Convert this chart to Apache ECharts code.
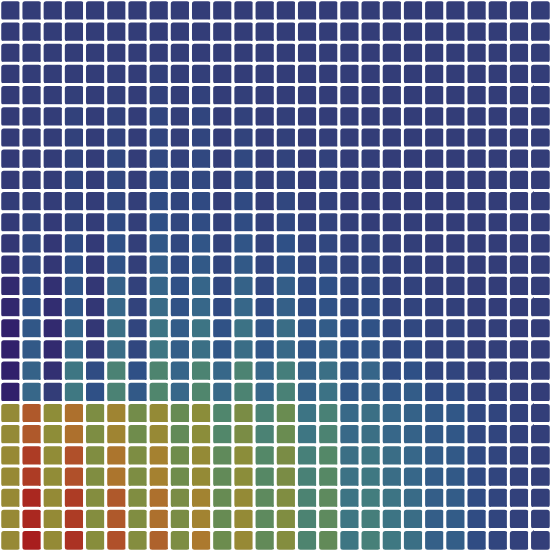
<!DOCTYPE html>
<html>
<head>
<meta charset="utf-8">
<script src="https://cdn.jsdelivr.net/npm/echarts@6/dist/echarts.min.js"></script>
<style>html,body{margin:0;padding:0;background:#fff;}#c{width:551px;height:551px;}</style>
</head>
<body>
<div id="c"></div>
<script>
// Column categories (x) and row categories (y, listed top to bottom)
const xCategories = Array.from({length: 26}, (_, i) => 'C' + i);
const yCategoriesTopDown = Array.from({length: 26}, (_, i) => 'R' + i);

// Cell values, one array per row, from top row to bottom row
const row00 = [0.95,1,1,1,1,1,1,1,1,1,1,1,1,1,1,1,1,1,1,1,1,1,1,1,1,1];
const row01 = [0.95,1,1,1,1,1,1,1,1,1,1,1,1,1,1,1,1,1,1,1,1,1,1,1,1,1];
const row02 = [0.95,1,1,1,1,1,1,1,1,1,1,1,1,1,1,1,1,1,1,1,1,1,1,1,1,1];
const row03 = [0.95,1,1,1,1,1.05,1,1.15,1,1.1,1,1,1,1,1,1,1,1,1,1,1,1,1,1,1,1];
const row04 = [0.95,1,1,1.1,1,1.1,1,1.2,1,1.2,1,1.1,1,1,1,1,1,1,1,1,1,1,1,1,1,1];
const row05 = [0.95,1,1,1.2,1,1.2,1,1.4,1.1,1.4,1,1.2,1,1.1,1,1,1,1,1,1,1,1,1,1,1,1];
const row06 = [0.95,1,1,1.2,1,1.25,1,1.4,1.1,1.4,1,1.3,1,1.15,1,1.05,1,1,1,1,1,1,1,1,1,1];
const row07 = [0.9,1,1,1.3,1,1.5,1,1.6,1.2,1.6,1.05,1.6,1.05,1.3,1,1.2,1,1.05,1,1,1,1,1,1,1,1];
const row08 = [0.9,1,1,1.4,1,1.5,1.05,1.65,1.3,1.6,1.1,1.6,1.1,1.3,1,1.2,1,1.1,1,1,1,1,1,1,1,1];
const row09 = [1,1.1,1,1.2,1,1.5,1.1,1.8,1.4,1.7,1.1,1.7,1.1,1.5,1.1,1.2,1,1,1,1,1,1,1,1,1,1];
const row10 = [0.9,1.3,0.9,1.3,1,1.7,1.1,2,1.5,1.8,1.2,1.8,1.2,1.6,1.2,1.3,1.1,1,1.05,1.05,1,1,1,1,1,1];
const row11 = [0.8,1.5,0.8,1.7,0.9,2,1.1,2.3,1.6,2.2,1.3,2.2,1.3,2,1.3,1.5,1.2,1.3,1.1,1.1,1,1,1,1,1,1];
const row12 = [0.7,1.6,0.8,1.9,0.9,2.1,1.1,2.5,1.7,2.4,1.4,2.4,1.4,2.1,1.4,1.6,1.3,1.4,1.15,1.15,1.05,1.05,1,1,1,1];
const row13 = [0.4,1.9,0.6,2.2,0.8,2.7,1.2,2.9,2,2.9,1.6,2.8,1.6,2.6,1.7,2,1.5,1.6,1.2,1.25,1.1,1.1,1,1,1,1];
const row14 = [0.3,2,0.5,2.3,0.8,3,1.3,3.2,2.1,3,1.7,3,1.7,2.7,1.8,2.1,1.6,1.8,1.3,1.35,1.2,1.15,1.05,1,1,1];
const row15 = [0.1,2.3,0.4,2.9,0.8,3.4,1.4,3.6,2.5,3.6,2.1,3.5,2.2,3.3,2.2,2.5,1.9,2.1,1.5,1.6,1.3,1.3,1.1,1.1,1,1];
const row16 = [0.1,2.4,0.4,3,0.9,3.3,1.5,3.7,2.6,3.4,2.3,3.3,2.3,3.1,2.3,2.6,2,2.2,1.6,1.7,1.3,1.3,1.1,1.1,1,1];
const row17 = [0.1,2.8,0.6,3.7,1.8,4.5,2,4.7,2.9,4.6,3,4.6,3,4.2,2.8,3.4,2.2,2.9,1.8,2,1.4,1.4,1.1,1.1,1,1];
const row18 = [0.1,3,1,3.8,2,4.5,2.4,4.8,3,4.8,3.1,4.6,3,4.4,2.8,3.5,2.3,2.7,2.3,2.5,1.8,1.8,1.3,1.2,1.1,1];
const row19 = [7.2,8.8,7,8.3,6.5,7.6,6.2,7.2,5.8,6.9,4.8,6.4,4.5,5.9,3.6,4.4,3.1,3.4,3,2.8,2.4,2.3,1.6,1.4,1.2,1.1];
const row20 = [7.2,8.8,7,8.3,6.5,7.6,6.1,7.3,5.6,6.9,4.9,6.4,4.5,5.9,3.7,4.6,3.1,3.4,3,2.8,2.4,2.3,1.6,1.4,1.2,1.1];
const row21 = [7.3,9.4,7.1,9,6.6,8.2,6.5,7.8,6.1,7.2,5.5,6.9,5,6.4,4.3,5,3.4,3.7,3.3,3,2.5,2.4,1.7,1.4,1.2,1.1];
const row22 = [7.3,9.4,7.1,9,6.6,8.2,6.5,7.8,6.1,7.2,5.6,6.9,5.1,6.4,4.4,5.1,3.5,3.8,3.3,3,2.5,2.4,1.7,1.4,1.2,1.1];
const row23 = [7.3,9.8,7.2,9.4,6.7,8.8,6.6,8.3,6.4,7.7,5.8,7.2,5.4,6.6,4.6,5.4,3.6,4.1,3.6,3.2,2.6,2.5,1.8,1.4,1.2,1.1];
const row24 = [7.3,9.8,7.2,9.4,6.7,8.8,6.6,8.3,6.4,7.7,5.8,7.2,5.4,6.6,4.6,5.4,3.7,4.2,3.6,3.3,2.6,2.5,1.8,1.4,1.2,1.1];
const row25 = [7.3,10,7.2,9.6,6.8,9,6.7,8.6,6.5,8.1,6,7.3,5.6,6.7,4.7,5.6,3.7,4.3,3.8,3.4,2.7,2.6,1.8,1.4,1.2,1.1];

const rowsTopDown = [row00,row01,row02,row03,row04,row05,row06,row07,row08,row09,row10,row11,row12,
  row13,row14,row15,row16,row17,row18,row19,row20,row21,row22,row23,row24,row25];

const valueMin = 0;
const valueMax = 10;
const palette = ['#311d69','#333d78','#2f5086','#376789','#417c80','#548868','#6c8c4e','#8e8d38','#ab7e2e','#b0502a','#a81e1e'];

// Build heatmap triples [x, y, value]; y category 0 is the bottom row
const yCategories = yCategoriesTopDown.slice().reverse();
const data = [];
rowsTopDown.forEach((row, r) => {
  const y = rowsTopDown.length - 1 - r;
  row.forEach((v, x) => data.push([x, y, v]));
});

const chart = echarts.init(document.getElementById('c'), null, {renderer: 'canvas'});
chart.setOption({
  animation: false,
  backgroundColor: '#ffffff',
  grid: {left: 0, right: 0, top: 0, bottom: 0},
  xAxis: {type: 'category', data: xCategories, show: false},
  yAxis: {type: 'category', data: yCategories, show: false},
  visualMap: {show: false, min: valueMin, max: valueMax, calculable: false, inRange: {color: palette}},
  series: [{
    type: 'heatmap',
    data: data,
    itemStyle: {borderColor: '#ffffff', borderWidth: 3, borderRadius: 4},
    emphasis: {disabled: true}
  }]
});
</script>
</body>
</html>
